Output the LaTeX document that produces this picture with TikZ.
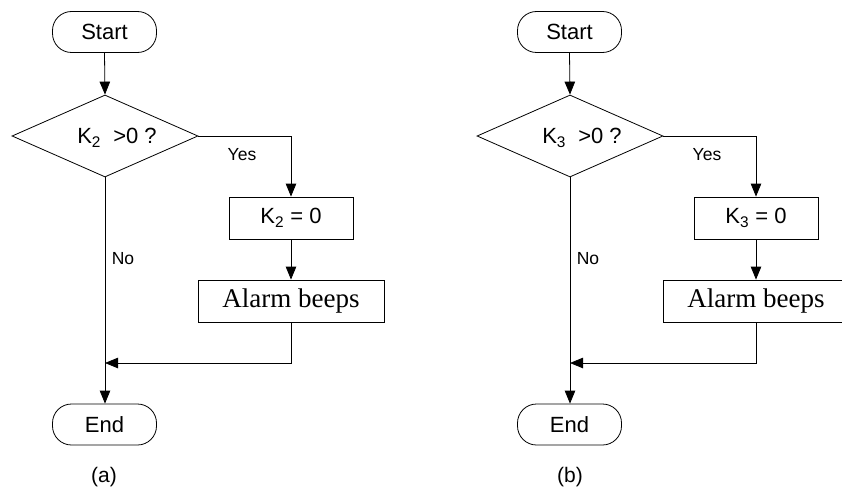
\documentclass[tikz,border=0pt]{standalone}
\usepackage{fontspec}
\setmainfont{Liberation Sans}
\newfontfamily\timesf{Liberation Serif}
\usetikzlibrary{arrows.meta,shapes.geometric}
\begin{document}
\begin{tikzpicture}[x=1pt,y=-1pt,
  line width=0.8pt,
  arr/.style={-{Triangle[length=13pt,width=10.5pt]}},
  term/.style={draw,rounded corners=19pt,minimum width=104pt,minimum height=41pt,inner sep=0pt,font=\fontsize{22}{26}\selectfont},
  decis/.style={draw,diamond,minimum width=186pt,minimum height=82pt,inner sep=0pt},
  procbox/.style={draw,minimum height=42pt,inner sep=0pt,font=\fontsize{22}{26}\selectfont},
  alarmbox/.style={draw,minimum width=186pt,minimum height=42pt,inner sep=0pt,font=\timesf\fontsize{27}{30}\selectfont},
  lbl/.style={inner sep=0pt,font=\fontsize{17.5}{20}\selectfont},
  captxt/.style={inner sep=0pt,font=\fontsize{21}{24}\selectfont},
  dtext/.style={inner sep=0pt,font=\fontsize{22}{26}\selectfont}]
\clip (0,0) rectangle (842,492);
\fill[white] (0,0) rectangle (842,492);
% ---------- (a) ----------
\node[term] (sa) at (104.5,32) {Start};
\node[decis] (da) at (105,136) {};
\node[dtext] (dta) at (117,138) {K\textsubscript{2}\ \ >0 ?};
\node[procbox,minimum width=124pt] (ka) at (291,218) {K\textsubscript{2} = 0};
\node[alarmbox] (aa) at (291,301) {Alarm beeps};
\node[term] (ea) at (104.5,424.5) {End};
\coordinate (ja) at (105,363);
\node[lbl] (ya) at (242,155) {Yes};
\node[lbl] (na) at (123,259) {No};
\node[captxt] (ca) at (104,477) {(a)};
\draw[arr] (sa.south) -- (da.north);
\draw[arr] (da.east) -| (ka.north);
\draw[arr] (ka.south) -- (aa.north);
\draw[arr] (aa.south) |- (ja);
\draw[arr] (da.south) -- (ea.north -| da.south);
% ---------- (b) ----------
\node[term] (sb) at (569.5,32) {Start};
\node[decis] (db) at (570,136) {};
\node[dtext] (dtb) at (582,138) {K\textsubscript{3}\ \ >0 ?};
\node[procbox,minimum width=124pt] (kb) at (756,218) {K\textsubscript{3} = 0};
\node[alarmbox] (ab) at (756,301) {Alarm beeps};
\node[term] (eb) at (569.5,424.5) {End};
\coordinate (jb) at (570,363);
\node[lbl] (yb) at (707,155) {Yes};
\node[lbl] (nb) at (588,259) {No};
\node[captxt] (cb) at (570,477) {(b)};
\draw[arr] (sb.south) -- (db.north);
\draw[arr] (db.east) -| (kb.north);
\draw[arr] (kb.south) -- (ab.north);
\draw[arr] (ab.south) |- (jb);
\draw[arr] (db.south) -- (eb.north -| db.south);
\end{tikzpicture}
\end{document}
